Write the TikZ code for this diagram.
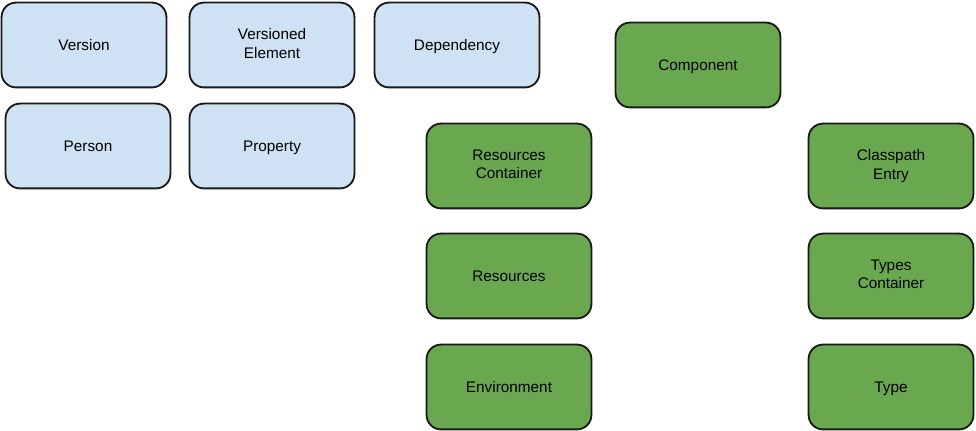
\documentclass[tikz,border=0pt]{standalone}
\usepackage{fontspec}
\setmainfont{Liberation Sans}
\usepackage{xcolor}
\definecolor{paleblue}{RGB}{207,226,243}
\definecolor{leafgreen}{RGB}{106,168,79}
\newcommand{\boxstrut}{\rule[-2.2pt]{0pt}{12.2pt}}

\begin{document}
\begin{tikzpicture}[x=0.025cm, y=-0.025cm,
    box/.style={draw=black!90, line width=1.3pt, rounded corners=0.36cm,
      minimum width=4.12cm, minimum height=2.12cm, align=center,
      font=\fontsize{10.9}{12.9}\selectfont, inner sep=0pt,
      execute at begin node=\boxstrut, execute at end node=\boxstrut},
    coreBox/.style={box, fill=paleblue},
    modelBox/.style={box, fill=leafgreen}]
  \useasboundingbox (0,0) rectangle (976,431);
  % Core elements
  \node[coreBox] (version) at (84,45) {Version};
  \node[coreBox] (versioned) at (272,45) {Versioned\\Element};
  \node[coreBox] (dependency) at (457,45) {Dependency};
  \node[coreBox] (person) at (88,146) {Person};
  \node[coreBox] (property) at (272,146) {Property};
  % Component model
  \node[modelBox] (component) at (698,65) {Component};
  \node[modelBox] (rescontainer) at (509,166) {Resources\\Container};
  \node[modelBox] (resources) at (509,276) {Resources};
  \node[modelBox] (environment) at (509,387) {Environment};
  \node[modelBox] (classpath) at (891,166) {Classpath\\Entry};
  \node[modelBox] (typescontainer) at (891,276) {Types\\Container};
  \node[modelBox] (type) at (891,387) {Type};
\end{tikzpicture}
\end{document}
